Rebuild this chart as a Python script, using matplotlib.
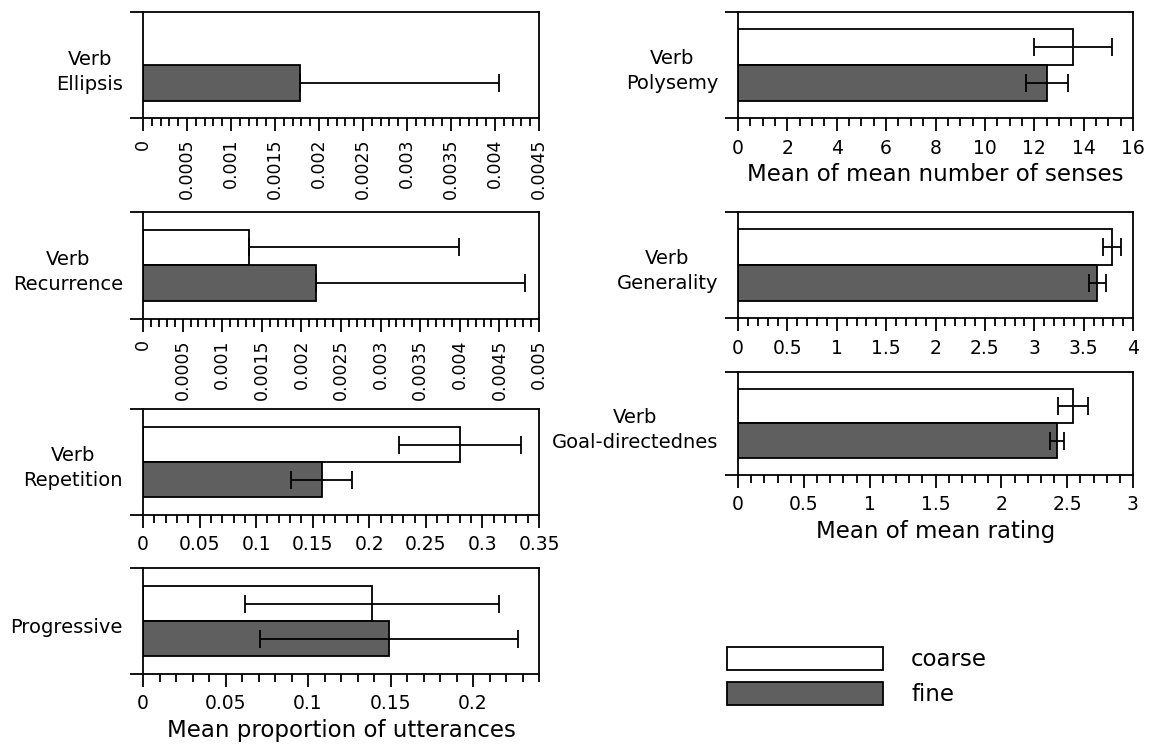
import matplotlib
matplotlib.use("Agg")
import numpy as np
import matplotlib.pyplot as plt
from matplotlib.patches import Patch
from matplotlib.ticker import MultipleLocator, FuncFormatter

plt.rcParams["font.family"] = ["DejaVu Sans"]

# ---- data -------------------------------------------------------------
measures = ["Verb\nEllipsis", "Verb\nRecurrence", "Verb\nRepetition", "Progressive",
            "Verb\nPolysemy", "Verb\nGenerality", "Verb\nGoal-directednes"]
coarse_mean = [np.nan, 0.00134, 0.280, 0.139, 13.58, 3.79, 2.545]
coarse_err = [np.nan, 0.00265, 0.054, 0.077, 1.58, 0.092, 0.114]
fine_mean = [0.00178, 0.00218, 0.158, 0.149, 12.50, 3.64, 2.421]
fine_err = [0.00226, 0.00264, 0.027, 0.078, 0.85, 0.083, 0.053]

x_max = [0.0045, 0.005, 0.35, 0.24, 16, 4, 3]
x_major = [0.0005, 0.0005, 0.05, 0.05, 2, 0.5, 0.5]
x_minor = [0.0001, 0.0001, 0.01, 0.01, 0.5, 0.1, 0.1]
x_titles = ["", "", "", "Mean proportion of utterances",
            "Mean of mean number of senses", "", "Mean of mean rating"]
series_names = ["coarse", "fine"]

# ---- layout (pixels: left, top, right, bottom) ------------------------
W, H = 1151, 751
boxes = [(143, 12.3, 539, 118.3), (143, 211.7, 539, 319), (143, 409.3, 539, 515),
         (143, 568.3, 539, 674), (738, 11.7, 1133, 118.3), (738, 211.7, 1133, 318.3),
         (738, 371.7, 1133, 475)]
rotated_ticks = [True, True, False, False, False, False, False]

FINE = "#5f5f5f"
LW = 1.3

fig = plt.figure(figsize=(W / 100, H / 100), dpi=100)


def fmt(v, _pos):
    return f"{round(v, 6):g}"


for i, (l, t, r, b) in enumerate(boxes):
    ax = fig.add_axes([l / W, 1 - b / H, (r - l) / W, (b - t) / H])
    for s in ax.spines.values():
        s.set_linewidth(LW)

    for pos, mean, err, face in ((2, coarse_mean[i], coarse_err[i], "white"),
                                 (1, fine_mean[i], fine_err[i], FINE)):
        if np.isnan(mean):
            continue
        ax.barh(pos, mean, height=1, color=face, edgecolor="black",
                linewidth=LW, zorder=2)
        lower = err if mean - err >= 0 else 0
        ax.errorbar(mean, pos, xerr=[[lower], [err]], fmt="none", ecolor="black",
                    elinewidth=LW, capsize=6.5, capthick=LW, zorder=3)

    ax.set_ylim(0, 3)
    ax.set_yticks([0, 3])
    ax.set_yticklabels([])
    ax.tick_params(axis="y", length=9.6, width=LW, direction="out")

    ax.set_xlim(0, x_max[i])
    ax.xaxis.set_major_locator(MultipleLocator(x_major[i]))
    ax.xaxis.set_minor_locator(MultipleLocator(x_minor[i]))
    ax.xaxis.set_major_formatter(FuncFormatter(fmt))
    ax.tick_params(axis="x", which="major", length=9.6, width=LW, pad=5)
    ax.tick_params(axis="x", which="minor", length=5.5, width=LW)
    if rotated_ticks[i]:
        ax.tick_params(axis="x", which="major", labelsize=12.5, labelrotation=90)
    else:
        ax.tick_params(axis="x", which="major", labelsize=13.5)

    if x_titles[i]:
        ax.set_xlabel(x_titles[i], fontsize=16.5, labelpad=4)

    ax.annotate(measures[i], xy=(0, 0.44), xycoords="axes fraction",
                xytext=(-14.4, 0), textcoords="offset points", ha="right",
                va="center", fontsize=14, linespacing=1.4, multialignment="center")

handles = [Patch(facecolor="white", edgecolor="black", linewidth=LW),
           Patch(facecolor=FINE, edgecolor="black", linewidth=LW)]
fig.legend(handles, series_names, loc="upper left",
           bbox_to_anchor=(726.7 / W, 1 - 647 / H), frameon=False, borderpad=0,
           borderaxespad=0, fontsize=16.5, handlelength=6.8, handleheight=1.2,
           handletextpad=1.25, labelspacing=0.45)

fig.savefig("out.png", dpi=100)
